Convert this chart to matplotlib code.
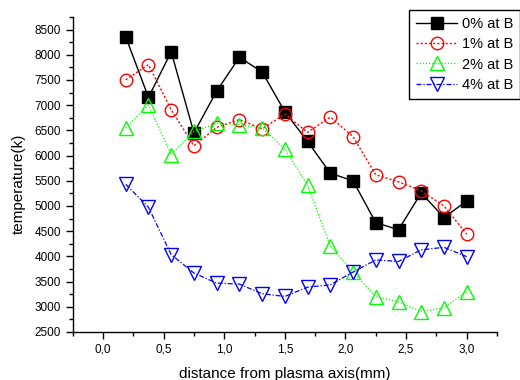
import numpy as np
import matplotlib.pyplot as plt
from matplotlib.ticker import MultipleLocator, FuncFormatter

plt.rcParams['font.family'] = ['Liberation Sans', 'DejaVu Sans']

distance = [0.1875, 0.375, 0.5625, 0.75, 0.9375, 1.125, 1.3125, 1.5,
            1.6875, 1.875, 2.0625, 2.25, 2.4375, 2.625, 2.8125, 3.0]

temp_0 = [8355, 7155, 8060, 6450, 7280, 7950, 7660, 6870,
          6280, 5650, 5500, 4670, 4530, 5260, 4770, 5100]
temp_1 = [7505, 7805, 6910, 6195, 6560, 6715, 6530, 6825,
          6460, 6765, 6375, 5620, 5480, 5300, 5000, 4440]
temp_2 = [6545, 7005, 6020, 6480, 6640, 6610, 6550, 6130,
          5410, 4205, 3695, 3200, 3100, 2905, 2980, 3300]
temp_4 = [5430, 4975, 4035, 3670, 3470, 3450, 3260, 3205,
          3390, 3435, 3690, 3930, 3900, 4130, 4180, 3995]

labels = ["0% at B", "1% at B", "2% at B", "4% at B"]

fig = plt.figure(figsize=(5.2, 3.8), dpi=100)
ax = fig.add_axes([72.7 / 520, 48 / 380, 424.3 / 520, 315 / 380])

ax.plot(distance, temp_0, color="black", lw=1.0, ls="-",
        marker="s", ms=8.5, mfc="black", mec="black", label=labels[0])
ax.plot(distance, temp_1, color="red", lw=1.0, ls=(0, (1.5, 1.5)),
        marker="o", ms=9, mfc="none", mec="red", mew=1.0, label=labels[1])
ax.plot(distance, temp_2, color="#00ff00", lw=0.9, ls=(0, (1, 1.5)),
        marker="^", ms=10, mfc="none", mec="#00ff00", mew=1.0, label=labels[2])
ax.plot(distance, temp_4, color="blue", lw=0.9, ls=(0, (4, 1.5, 1, 1.5)),
        marker="v", ms=10, mfc="none", mec="blue", mew=1.0, label=labels[3])

ax.set_xlim(-0.25, 3.25)
ax.set_ylim(2500, 8750)
ax.xaxis.set_major_locator(MultipleLocator(0.5))
ax.xaxis.set_minor_locator(MultipleLocator(0.25))
ax.yaxis.set_major_locator(MultipleLocator(500))
ax.yaxis.set_minor_locator(MultipleLocator(250))
ax.xaxis.set_major_formatter(FuncFormatter(lambda v, p: f"{v:.1f}".replace(".", ",")))
ax.yaxis.set_major_formatter(FuncFormatter(lambda v, p: f"{v:.0f}"))

for s in ["top", "right"]:
    ax.spines[s].set_visible(False)
for s in ["left", "bottom"]:
    ax.spines[s].set_linewidth(1.0)

ax.tick_params(which="major", direction="out", length=5, width=1, labelsize=8.5)
ax.tick_params(which="minor", direction="out", length=3, width=1)

ax.set_xlabel("distance from plasma axis(mm)", fontsize=11, labelpad=8)
ax.set_ylabel("temperature(k)", fontsize=11)
ax.yaxis.set_label_coords(-0.11, 0.47)

leg = ax.legend(loc="upper left", bbox_to_anchor=(409 / 520, 1 - 10 / 380),
                bbox_transform=fig.transFigure, borderaxespad=0,
                fancybox=False, edgecolor="black", framealpha=1,
                fontsize=10.5, handlelength=2.8, handletextpad=0.3,
                labelspacing=0.42, borderpad=0.5)
leg.get_frame().set_linewidth(1.0)

fig.savefig("out.png", dpi=100)
